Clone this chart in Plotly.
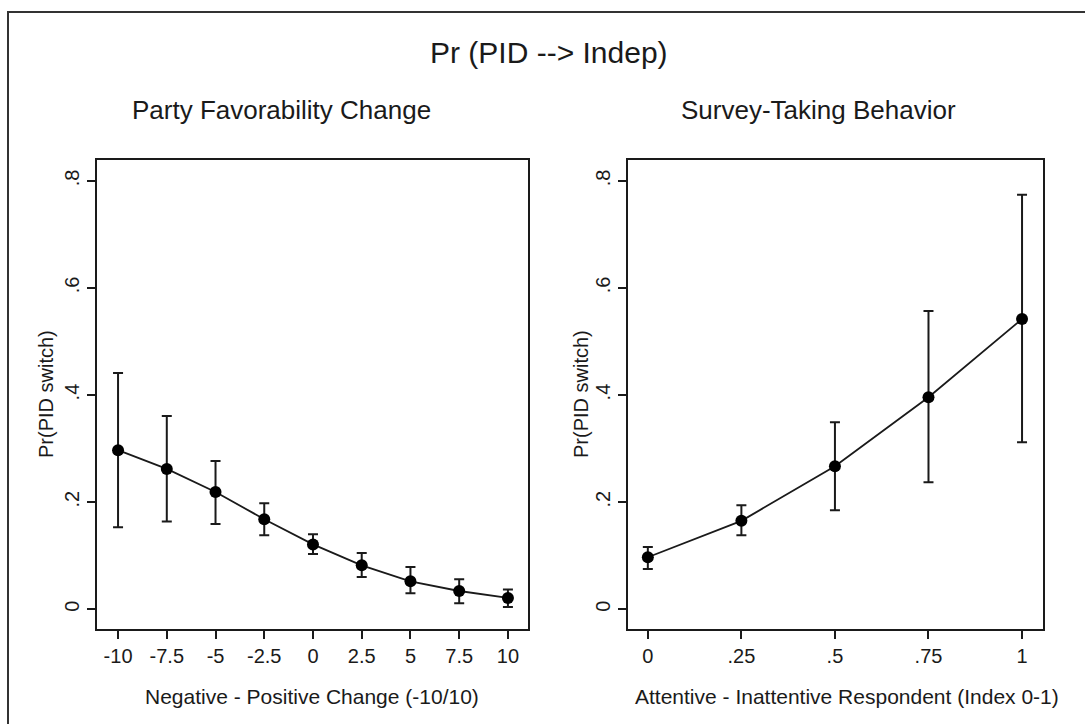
import plotly.graph_objects as go

# ---- data ----
fav_x = [-10, -7.5, -5, -2.5, 0, 2.5, 5, 7.5, 10]
fav_y = [0.297, 0.262, 0.219, 0.168, 0.121, 0.082, 0.052, 0.034, 0.021]
fav_lo = [0.153, 0.164, 0.159, 0.138, 0.103, 0.060, 0.030, 0.011, 0.004]
fav_hi = [0.441, 0.361, 0.277, 0.198, 0.140, 0.105, 0.079, 0.056, 0.037]
fav_ticks = ["-10", "-7.5", "-5", "-2.5", "0", "2.5", "5", "7.5", "10"]

srv_x = [0, 0.25, 0.5, 0.75, 1]
srv_y = [0.097, 0.165, 0.267, 0.396, 0.542]
srv_lo = [0.075, 0.138, 0.185, 0.237, 0.312]
srv_hi = [0.116, 0.194, 0.349, 0.557, 0.774]
srv_ticks = ["0", ".25", ".5", ".75", "1"]

y_vals = [0, 0.2, 0.4, 0.6, 0.8]
y_ticks = ["0", ".2", ".4", ".6", ".8"]

title = "Pr (PID --> Indep)"
sub_left = "Party Favorability Change"
sub_right = "Survey-Taking Behavior"
ytitle = "Pr(PID switch)"
xtitle_left = "Negative - Positive Change (-10/10)"
xtitle_right = "Attentive - Inattentive Respondent (Index 0-1)"

W, H = 1085, 724
FONT = "Liberation Sans, Arial, Helvetica, sans-serif"
INK = "#1a1a1a"


def px_x(p):
    return p / W


def px_y(p):
    return 1 - p / H


fig = go.Figure()


def add_series(x, y, lo, hi, xa, ya):
    fig.add_trace(go.Scatter(
        x=x, y=y, mode="lines+markers", xaxis=xa, yaxis=ya,
        line=dict(color=INK, width=1.8),
        marker=dict(color="black", size=12),
        error_y=dict(type="data", symmetric=False,
                     array=[h - v for h, v in zip(hi, y)],
                     arrayminus=[v - l for v, l in zip(y, lo)],
                     color=INK, thickness=2, width=5),
        showlegend=False, hoverinfo="skip"))


add_series(fav_x, fav_y, fav_lo, fav_hi, "x", "y")
add_series(srv_x, srv_y, srv_lo, srv_hi, "x2", "y2")

axis_common = dict(showline=True, mirror=True, linecolor=INK, linewidth=2,
                   ticks="outside", ticklen=8, tickwidth=2, tickcolor=INK,
                   showgrid=False, zeroline=False,
                   tickfont=dict(family=FONT, size=20, color=INK))

ydom = [px_y(629), px_y(160)]
yrange = [-0.037, 0.839]

fig.update_layout(
    width=W, height=H,
    margin=dict(l=0, r=0, t=0, b=0),
    paper_bgcolor="white", plot_bgcolor="white",
    xaxis=dict(domain=[px_x(97), px_x(528)], range=[-11.08, 11.03],
               tickvals=fav_x, ticktext=fav_ticks, anchor="y", **axis_common),
    yaxis=dict(domain=ydom, range=yrange, tickvals=y_vals, ticktext=y_ticks,
               tickangle=-90, anchor="x", **axis_common),
    xaxis2=dict(domain=[px_x(628), px_x(1043)], range=[-0.053, 1.056],
                tickvals=srv_x, ticktext=srv_ticks, anchor="y2", **axis_common),
    yaxis2=dict(domain=ydom, range=yrange, tickvals=y_vals, ticktext=y_ticks,
                tickangle=-90, anchor="x2", **axis_common),
)

ann = [
    dict(text=title, x=px_x(549), y=px_y(52), size=30),
    dict(text=sub_left, x=px_x(282), y=px_y(110), size=26),
    dict(text=sub_right, x=px_x(818), y=px_y(110), size=26),
    dict(text=xtitle_left, x=px_x(312), y=px_y(696), size=21),
    dict(text=xtitle_right, x=px_x(847), y=px_y(696), size=21),
]
for a in ann:
    fig.add_annotation(text=a["text"], x=a["x"], y=a["y"], xref="paper", yref="paper",
                       xanchor="center", yanchor="middle", showarrow=False,
                       font=dict(family=FONT, size=a["size"], color=INK))
for xc in (46, 581):
    fig.add_annotation(text=ytitle, x=px_x(xc), y=px_y(394), xref="paper", yref="paper",
                       xanchor="center", yanchor="middle", showarrow=False, textangle=-90,
                       font=dict(family=FONT, size=20, color=INK))

# outer frame (cut off at right and bottom as in the reference)
fig.add_shape(type="rect", xref="paper", yref="paper",
              x0=px_x(8), x1=1.02, y0=-0.02, y1=px_y(12),
              line=dict(color="#333333", width=2), fillcolor="rgba(0,0,0,0)")

fig.write_html("out.html")
